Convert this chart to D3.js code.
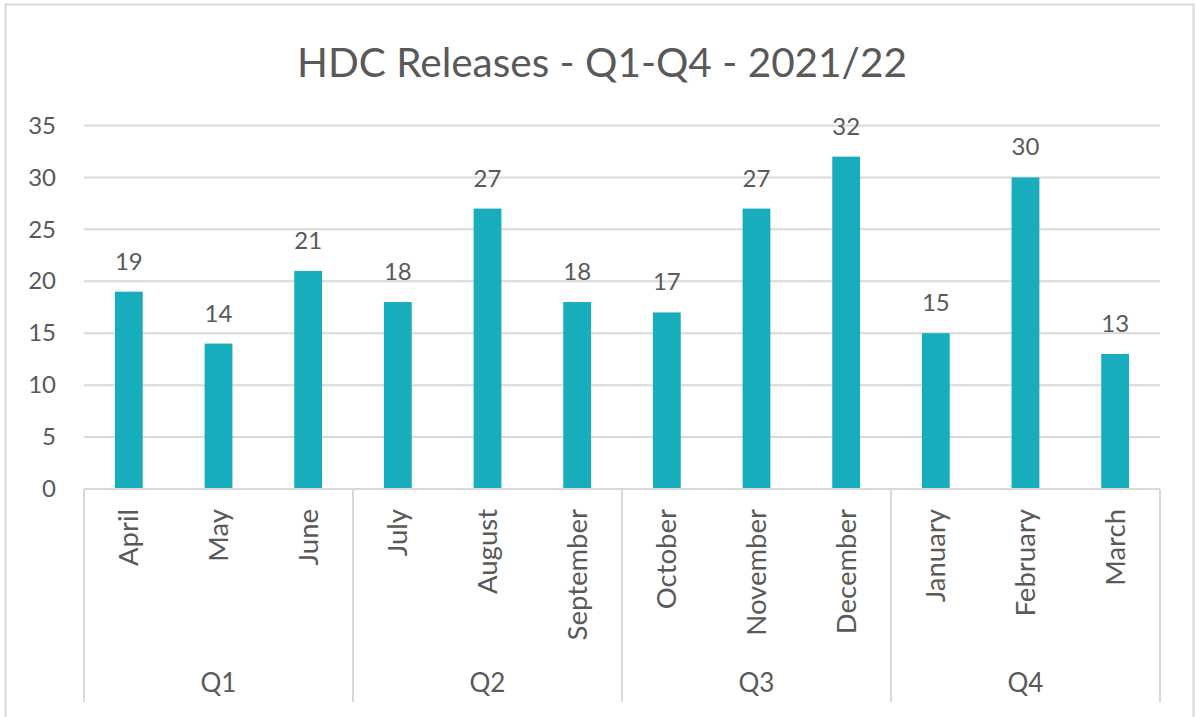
<!DOCTYPE html>
<html>
<head>
<meta charset="utf-8">
<script src="https://cdn.jsdelivr.net/npm/d3@7"></script>
<style>
  body { margin: 0; background: #fff; }
  svg text { font-family: Lato, "Open Sans", sans-serif; fill: #595959; }
</style>
</head>
<body>
<svg width="1195" height="717"></svg>
<script>
// chart data
var months = ["April","May","June","July","August","September","October","November","December","January","February","March"];
var releases = [19, 14, 21, 18, 27, 18, 17, 27, 32, 15, 30, 13];
var quarters = ["Q1","Q2","Q3","Q4"];
var yTicks = [0, 5, 10, 15, 20, 25, 30, 35];

var svg = d3.select("svg"),
    margin = {top: 125.5, right: 35, bottom: 228, left: 84},
    width = +svg.attr("width") - margin.left - margin.right,
    height = +svg.attr("height") - margin.top - margin.bottom;

var data = months.map(function(m, i) {
  return {month: m, qty: releases[i], quarter: quarters[Math.floor(i / 3)]};
});

// outer chart border
svg.append("rect")
    .attr("x", 5.5).attr("y", 4.5)
    .attr("width", 1188).attr("height", 720)
    .attr("fill", "none")
    .attr("stroke", "#d9d9d9")
    .attr("stroke-width", 2);

var x = d3.scaleBand().domain(months).range([0, width]).paddingInner(0.69).paddingOuter(0.345);
var xq = d3.scaleBand().domain(quarters).range([0, width]);
var y = d3.scaleLinear().domain([0, 35]).range([height, 0]);

var g = svg.append("g")
    .attr("transform", "translate(" + margin.left + "," + margin.top + ")");

//Create Title
svg.append("text")
    .attr("x", 602)
    .attr("y", 77)
    .style("text-anchor", "middle")
    .style("font-size", "40.5px")
    .text("HDC Releases - Q1-Q4 - 2021/22");

// gridlines
g.selectAll(".grid")
  .data(yTicks.filter(function(d) { return d > 0; }))
  .enter().append("line")
    .attr("x1", 0).attr("x2", width)
    .attr("y1", function(d) { return y(d); })
    .attr("y2", function(d) { return y(d); })
    .attr("stroke", "#d9d9d9")
    .attr("stroke-width", 2);

// y axis labels
var yAxis = g.append("g")
    .call(d3.axisLeft(y).tickValues(yTicks).tickSize(0).tickPadding(28));
yAxis.select(".domain").remove();
yAxis.selectAll("text")
    .style("font-size", "24px")
    .style("font-family", "Lato, sans-serif")
    .attr("fill", "#595959");

//Plot the data
g.selectAll(".bar")
  .data(data)
  .enter().append("rect")
    .attr("class", "bar")
    .attr("x", function(d) { return x(d.month); })
    .attr("width", x.bandwidth())
    .attr("y", function(d) { return y(d.qty); })
    .attr("height", function(d) { return height - y(d.qty); })
    .attr("fill", "#17adbd");

// value labels
g.selectAll(".bartext")
  .data(data)
  .enter().append("text")
    .attr("class", "bartext")
    .attr("text-anchor", "middle")
    .style("font-size", "24px")
    .attr("x", function(d) { return x(d.month) + x.bandwidth() / 2; })
    .attr("y", function(d) { return y(d.qty) - 22; })
    .text(function(d) { return d.qty; });

// x axis line
g.append("line")
    .attr("x1", 0).attr("x2", width)
    .attr("y1", height).attr("y2", height)
    .attr("stroke", "#d9d9d9")
    .attr("stroke-width", 2);

// quarter separators
var seps = quarters.map(function(q) { return xq(q); }).concat([width]);
g.selectAll(".sep")
  .data(seps)
  .enter().append("line")
    .attr("x1", function(d) { return d; })
    .attr("x2", function(d) { return d; })
    .attr("y1", height)
    .attr("y2", height + 213)
    .attr("stroke", "#d9d9d9")
    .attr("stroke-width", 2);

// month labels (rotated)
g.selectAll(".month")
  .data(data)
  .enter().append("text")
    .attr("class", "month")
    .attr("text-anchor", "end")
    .attr("dy", "0.35em")
    .style("font-size", "27.5px")
    .attr("transform", function(d) {
      return "translate(" + (x(d.month) + x.bandwidth() / 2) + "," + (height + 20) + ") rotate(-90)";
    })
    .text(function(d) { return d.month; });

// quarter labels
g.selectAll(".quarter")
  .data(quarters)
  .enter().append("text")
    .attr("class", "quarter")
    .attr("text-anchor", "middle")
    .style("font-size", "26px")
    .attr("x", function(d) { return xq(d) + xq.bandwidth() / 2; })
    .attr("y", height + 203)
    .text(function(d) { return d; });
</script>
</body>
</html>
